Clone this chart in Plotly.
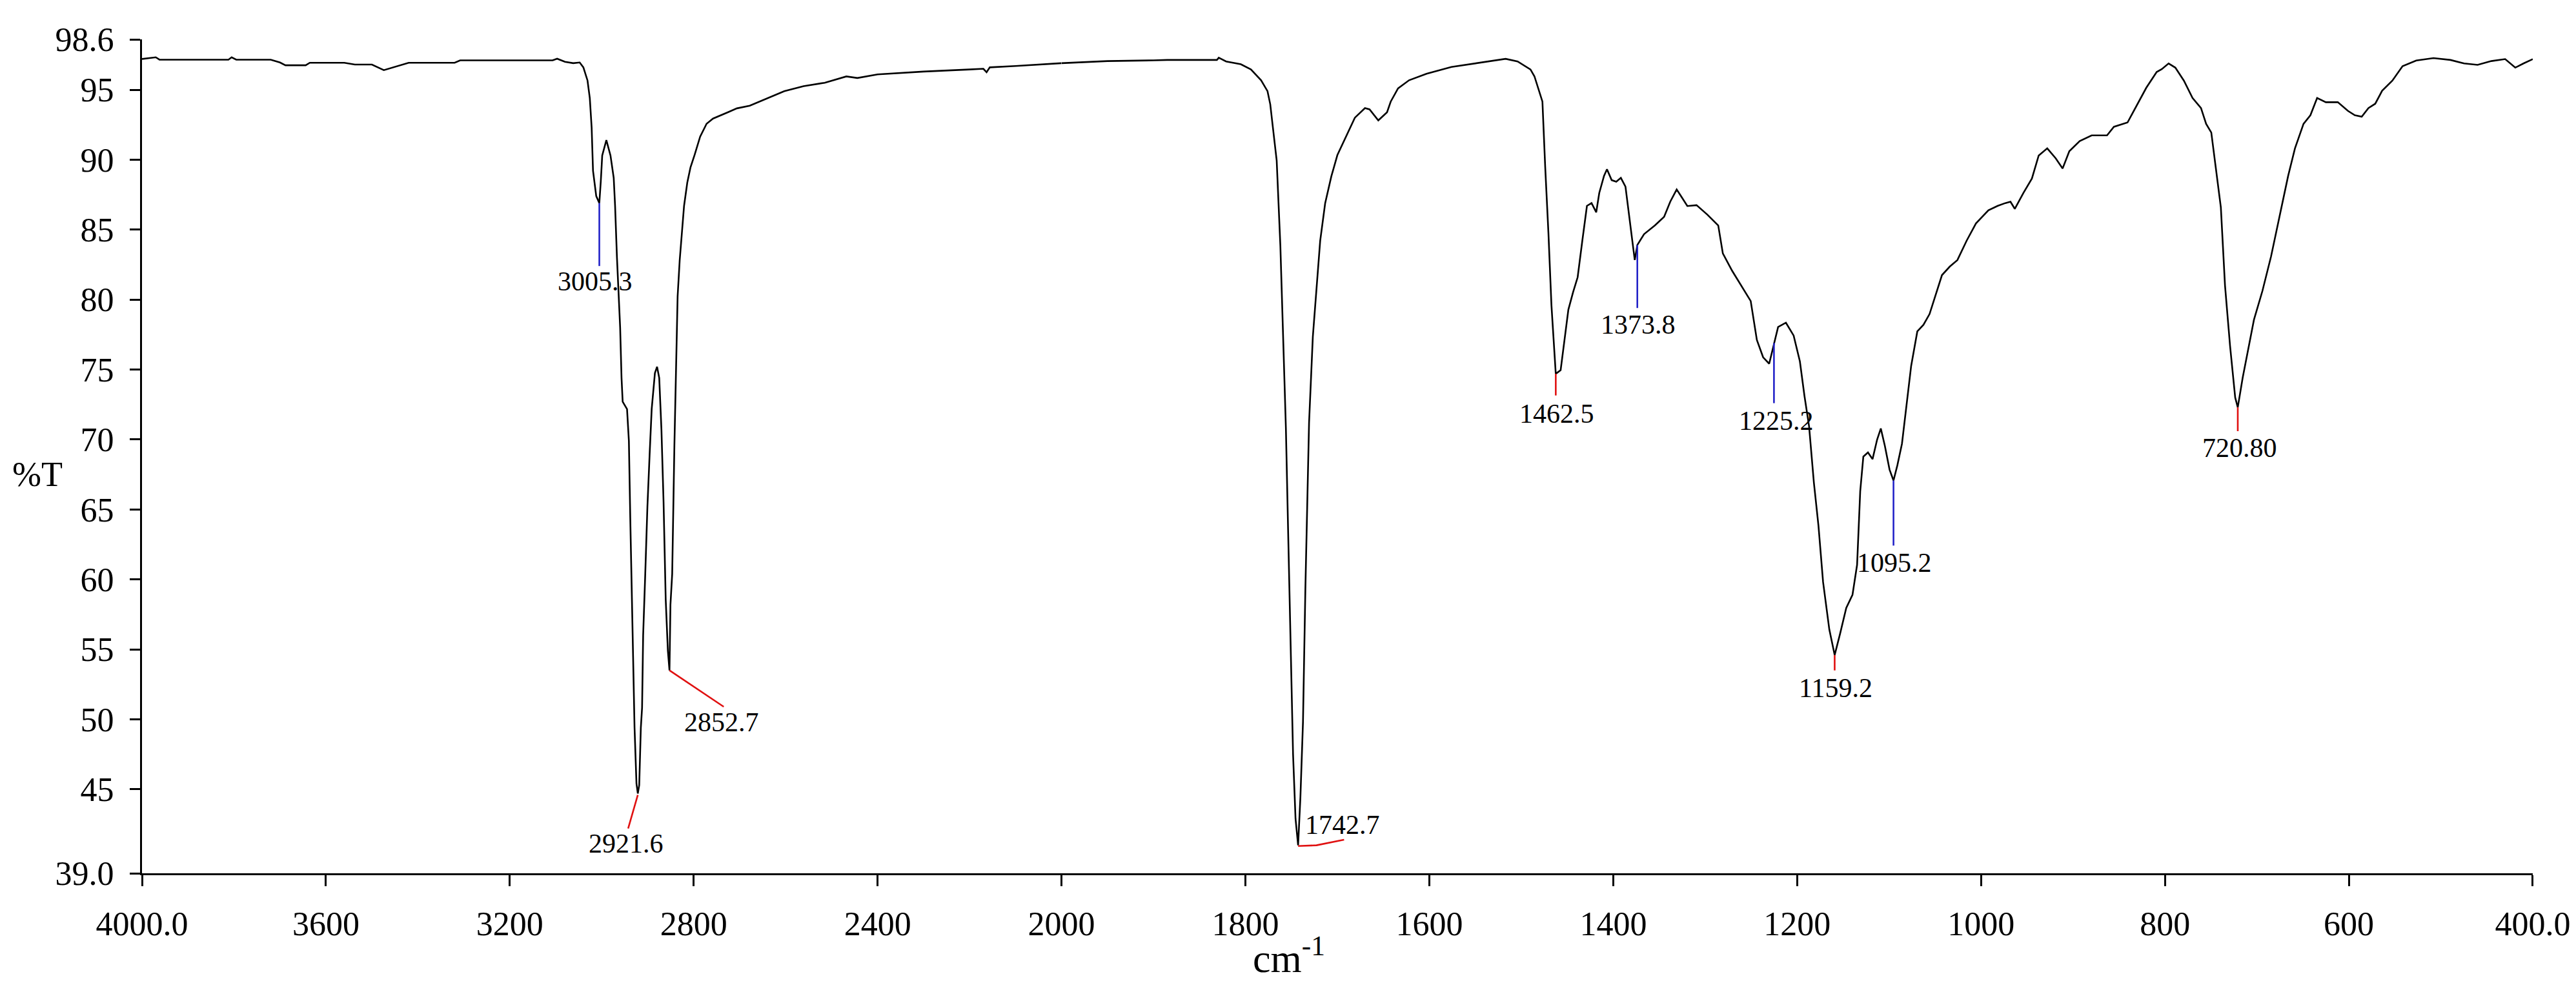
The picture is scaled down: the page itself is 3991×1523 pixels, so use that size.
import numpy as np
import plotly.graph_objects as go

# ---------------- data ----------------
wavenumber = [
    4000, 3993, 3970, 3962, 3880, 3812, 3805, 3795, 3720, 3700, 3688, 3644, 3635, 3560,
    3537, 3500, 3474, 3438, 3420, 3320, 3308, 3107, 3097, 3080, 3062, 3048, 3040, 3031,
    3026, 3022, 3019, 3012, 3005.3, 3002, 2999, 2990, 2981, 2974, 2971, 2967, 2963, 2960,
    2957, 2954.5, 2945, 2941, 2938, 2933.4, 2928.7, 2924.5, 2921.6, 2918.5, 2915, 2912.3,
    2910, 2905.4, 2900.7, 2896, 2891.4, 2884.4, 2879.7, 2875, 2870.2, 2865.6, 2860.9,
    2856.2, 2852.7, 2850.6, 2846.8, 2842, 2837.5, 2835, 2830.5, 2825.8, 2821, 2814, 2807,
    2797.8, 2786, 2772, 2758, 2725, 2706, 2678, 2632, 2603, 2561, 2515, 2468, 2444, 2400,
    2300, 2200, 2170, 2163, 2156, 2100, 2000,
    1950, 1900, 1885, 1831, 1829, 1821, 1805, 1794, 1783, 1776, 1773, 1770, 1766, 1762,
    1759, 1756, 1753.6, 1751, 1748.2, 1745.5, 1742.7, 1740.2, 1737.4, 1734.8, 1730.8,
    1726.7, 1722.7, 1718.7, 1713.3, 1706.6, 1700, 1692, 1681, 1670, 1665, 1655.5, 1646,
    1642, 1634, 1622, 1603, 1576, 1536, 1517, 1504, 1500, 1490, 1485.7, 1477, 1474,
    1470.5, 1467.2, 1464, 1462.5, 1457.2, 1452, 1448.8, 1443.7, 1438.7, 1433.6, 1428.6,
    1423.6, 1418.5, 1415.2, 1410, 1406.8, 1401.7, 1396.7, 1391.7, 1386.7, 1381.6, 1376.6,
    1373.8, 1366.5, 1354.7, 1344.7, 1338, 1331, 1326, 1319.4, 1309.4, 1297.6, 1285.8,
    1280.8, 1270.7, 1260.6, 1250.5, 1243.8, 1237, 1230.4, 1225.2, 1220.7, 1212.2, 1203.8,
    1197, 1192, 1187, 1181.8, 1176.8, 1171.8, 1165, 1159.2, 1153.3, 1146.6, 1139.8,
    1134.8, 1131.4, 1128, 1123, 1118, 1113, 1109, 1104.6, 1099.5, 1095.2, 1091, 1086,
    1081, 1076, 1069.3, 1062.6, 1056, 1049, 1042.5, 1034, 1025.7, 1015.6, 1005.5, 992,
    982, 973.6, 968, 963.3, 954, 944.7, 937.3, 928, 918.7, 911.3, 904, 892.7, 879.7, 863,
    855.5, 840.7, 831.4, 820.3, 809, 803.5, 796, 788.7, 779.4, 770, 760.8, 755.2, 749.6,
    744, 739.2, 734.7, 729.2, 723.6, 720.8, 715.4, 710.6, 703.2, 694, 684.6, 675.3, 666,
    658.6, 649.3, 641.8, 634.5, 625, 612, 601, 593.5, 586, 578.7, 571.3, 563.8, 552.7,
    541.6, 526.7, 508, 489.5, 474.7, 460, 445, 430, 419, 410, 400,
]
transmittance = [
    97.20, 97.23, 97.32, 97.15, 97.15, 97.15, 97.32, 97.15, 97.15, 96.95, 96.75, 96.75, 96.93, 96.93,
    96.80, 96.80, 96.40, 96.75, 96.93, 96.93, 97.10, 97.10, 97.22, 97.00, 96.90, 96.95, 96.60, 95.66,
    94.40, 92.30, 89.20, 87.40, 86.90, 88.50, 90.30, 91.40, 90.30, 88.70, 86.70, 83.05, 80.50, 78.00,
    74.40, 72.70, 72.17, 69.90, 64.40, 57.10, 49.40, 45.40, 44.70, 45.30, 49.40, 50.84,
    56.00, 60.40, 65.20, 68.85, 72.17, 74.75, 75.20, 74.40, 70.70, 65.55, 58.56,
    54.90, 53.50, 58.20, 60.40, 69.60, 75.86, 80.24, 82.80, 84.67, 86.70, 88.36, 89.45,
    90.37, 91.65, 92.57, 92.94, 93.40, 93.67, 93.86, 94.52, 94.90, 95.26, 95.50, 95.95, 95.84, 96.10,
    96.30, 96.45, 96.50, 96.25, 96.60, 96.70, 96.90,
    97.05, 97.10, 97.13, 97.13, 97.29, 97.02, 96.82, 96.45, 95.68, 94.90, 93.96, 92.23, 89.94, 83.84,
    77.34, 70.83, 63.56, 55.15, 47.50, 42.90, 41.00, 44.45, 49.80, 59.35, 71.20,
    77.34, 80.76, 84.20, 86.88, 88.80, 90.33, 91.47, 93.00, 93.69, 93.60, 92.81, 93.39,
    94.15, 95.10, 95.68, 96.14, 96.63, 97.02, 97.21, 97.02, 96.85, 96.45, 95.96, 94.15, 89.50,
    84.80, 79.60, 75.90, 74.70, 74.96, 77.73, 79.28, 80.52, 81.60, 84.22, 86.70,
    86.90, 86.24, 87.62, 88.85, 89.32, 88.54, 88.43, 88.70, 88.08, 85.45, 82.83,
    83.90, 84.68, 85.30, 85.92, 87.00, 87.87, 87.37, 86.69, 86.75, 86.07, 85.30,
    83.30, 82.06, 80.98, 79.90, 77.12, 75.88, 75.42, 76.90, 78.04, 78.35, 77.43,
    75.58, 73.10, 70.94, 66.93, 63.84, 59.82, 56.42, 54.60, 56.12, 57.96, 58.90,
    61.05, 66.30, 68.78, 69.08, 68.60, 70.00, 70.79, 69.55, 67.85, 67.07, 68.16, 69.70,
    72.48, 75.26, 77.73, 78.20, 78.97, 80.36, 81.75, 82.36, 82.83, 84.22, 85.45, 86.38,
    86.70, 86.90, 87.00, 86.49, 87.62, 88.65, 90.30, 90.81, 90.09, 89.37, 90.61, 91.33, 91.74, 91.74,
    92.35, 92.66, 93.80, 95.14, 96.27, 96.47, 96.88, 96.58, 95.65, 94.41, 93.69, 92.56, 91.94,
    89.06, 86.59, 81.02, 76.70, 73.00, 72.30, 74.44, 76.09, 78.56, 80.62, 83.09, 85.97, 88.85,
    90.81, 92.56, 93.18, 94.41, 94.11, 94.11, 93.49, 93.18, 93.07, 93.69, 94.00, 94.93, 95.65,
    96.68, 97.09, 97.26, 97.13, 96.88, 96.78, 97.05, 97.19, 96.58, 96.88, 97.19,
]

peak_wavenumbers = [3005.3, 2921.6, 2852.7, 1742.7, 1462.5, 1373.8, 1225.2, 1159.2, 1095.2, 720.8]
peak_labels = ["3005.3", "2921.6", "2852.7", "1742.7", "1462.5", "1373.8", "1225.2", "1159.2", "1095.2", "720.80"]
peak_strong = [False, True, True, True, True, False, False, True, False, True]

x_ticks_high = [4000, 3600, 3200, 2800, 2400, 2000]
x_ticktext_high = ["4000.0", "3600", "3200", "2800", "2400", "2000"]
x_ticks_low = [1800, 1600, 1400, 1200, 1000, 800, 600, 400]
x_ticktext_low = ["1800", "1600", "1400", "1200", "1000", "800", "600", "400.0"]
y_ticks = [39.0, 45, 50, 55, 60, 65, 70, 75, 80, 85, 90, 95, 98.6]
y_ticktext = ["39.0", "45", "50", "55", "60", "65", "70", "75", "80", "85", "90", "95", "98.6"]

# ---------------- styling of the peak markers (offsets, not data) ----------------
# leader path offsets (d wavenumber, d %T) from the peak point and label offset
marker_paths = [
    [(0, 0), (0, -4.5)],
    [(0, -0.1), (21, -2.5)],
    [(0, 0), (-118, -2.6)],
    [(0, -0.05), (-20, 0.0), (-50, 0.4)],
    [(0, 0), (0, -1.55)],
    [(0, 0), (0, -4.5)],
    [(0, 0), (0, -4.3)],
    [(0, 0), (0, -1.1)],
    [(0, 0), (0, -4.65)],
    [(0, 0), (0, -1.7)],
]
label_offsets = [(8.7, -5.6), (25.5, -3.6), (-114, -3.7), (-48, 1.45), (-1, -2.85),
                 (-1.2, -5.7), (-2.8, -5.55), (-0.8, -2.35), (-1.3, -5.9), (-2.1, -2.9)]

FONT = "Liberation Serif"
RED = "#e01010"
BLUE = "#2222c8"
BREAK = 2000

wn = np.array(wavenumber, dtype=float)
tr = np.array(transmittance, dtype=float)
order = np.argsort(wn)
wn_sorted, tr_sorted = wn[order], tr[order]

fig = go.Figure()
hi = wn >= BREAK
lo = wn <= BREAK
fig.add_trace(go.Scatter(x=wn[hi], y=tr[hi], mode="lines", xaxis="x", yaxis="y",
                         line=dict(color="black", width=2.6), hoverinfo="skip"))
fig.add_trace(go.Scatter(x=wn[lo], y=tr[lo], mode="lines", xaxis="x2", yaxis="y",
                         line=dict(color="black", width=2.6), hoverinfo="skip"))

annotations = []
for p, lab, strong, path, (lx, ly) in zip(peak_wavenumbers, peak_labels, peak_strong,
                                          marker_paths, label_offsets):
    t0 = float(np.interp(p, wn_sorted, tr_sorted))
    ax_name = "x" if p > BREAK else "x2"
    fig.add_trace(go.Scatter(
        x=[p + dx for dx, _ in path], y=[t0 + dy for _, dy in path],
        mode="lines", xaxis=ax_name, yaxis="y",
        line=dict(color=RED if strong else BLUE, width=2.6), hoverinfo="skip"))
    annotations.append(dict(
        x=p + lx, y=t0 + ly, xref=ax_name, yref="y", text=lab, showarrow=False,
        xanchor="center", yanchor="middle",
        font=dict(family=FONT, size=42, color="black")))

annotations.append(dict(x=-0.0437, y=0.478, xref="paper", yref="paper", text="%T",
                        showarrow=False, xanchor="center", yanchor="middle",
                        font=dict(family=FONT, size=54, color="black")))
annotations.append(dict(x=0.4797, y=-0.098, xref="paper", yref="paper",
                        text="cm<sup>-1</sup>", showarrow=False,
                        xanchor="center", yanchor="middle",
                        font=dict(family=FONT, size=62, color="black")))

axis_common = dict(showline=True, linecolor="black", linewidth=3, ticks="outside",
                   ticklen=17, tickwidth=3, tickcolor="black", showgrid=False,
                   zeroline=False, tickfont=dict(family=FONT, size=52, color="black"),
                   tickmode="array", anchor="y", ticklabelstandoff=14)

fig.update_layout(
    width=3991, height=1523,
    margin=dict(l=212, r=75, t=53, b=178),
    paper_bgcolor="white", plot_bgcolor="white",
    showlegend=False,
    xaxis=dict(domain=[0, 5 / 13], range=[4000, BREAK], tickvals=x_ticks_high,
               ticktext=x_ticktext_high, **axis_common),
    xaxis2=dict(domain=[5 / 13, 1], range=[BREAK, 400], tickvals=x_ticks_low,
                ticktext=x_ticktext_low, **axis_common),
    yaxis=dict(range=[39.0, 98.6], tickvals=y_ticks, ticktext=y_ticktext, anchor="x",
               showline=True, linecolor="black", linewidth=3, ticks="outside",
               ticklen=16, tickwidth=3, tickcolor="black", showgrid=False,
               zeroline=False, tickfont=dict(family=FONT, size=52, color="black"),
               tickmode="array", ticklabelstandoff=14),
    annotations=annotations,
)

fig.write_html("out.html")
